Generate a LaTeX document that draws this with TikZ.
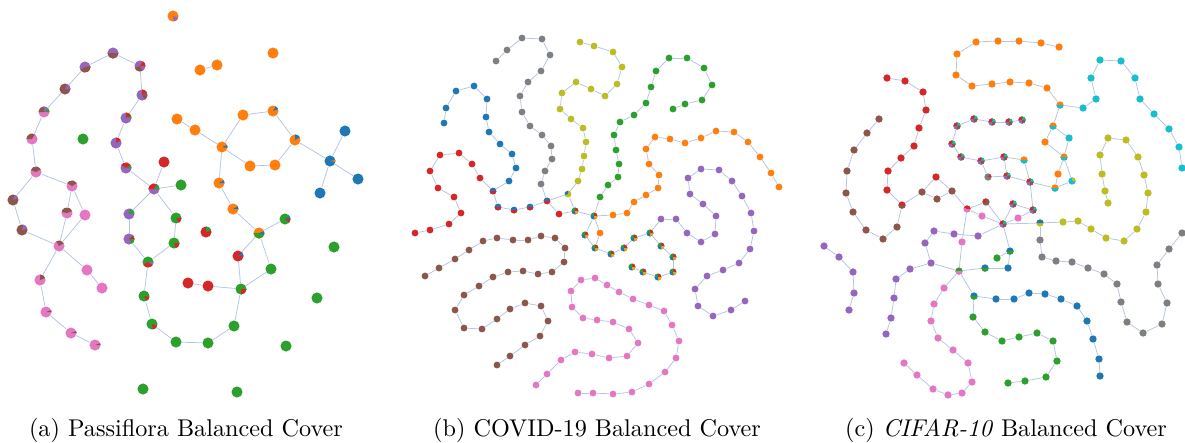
\documentclass[tikz,border=0pt]{standalone}
\definecolor{tblue}{HTML}{1F77B4}
\definecolor{torange}{HTML}{FF7F0E}
\definecolor{tgreen}{HTML}{2CA02C}
\definecolor{tred}{HTML}{D62728}
\definecolor{tpurple}{HTML}{9467BD}
\definecolor{tbrown}{HTML}{8C564B}
\definecolor{tpink}{HTML}{E377C2}
\definecolor{tgray}{HTML}{7F7F7F}
\definecolor{tolive}{HTML}{BCBD22}
\definecolor{tcyan}{HTML}{17BECF}
\definecolor{edgec}{RGB}{180,198,228}
\pgfdeclarelayer{bg}
\pgfsetlayers{bg,main}
\tikzset{
  dot/.style={circle, inner sep=0pt, minimum size=\dotd},
  edge/.style={draw=edgec, line width=0.35pt},
  captext/.style={inner sep=0pt, font=\fontsize{10.9}{13}\selectfont},
}
% chain of dots, joined in order
\newcommand{\dotchain}[3]{%
  \foreach \pt [count=\i] in {#3}
    \node[dot, fill=#2] (#1\i) at \pt {};
  \begin{pgfonlayer}{bg}
    \foreach \pt [count=\i, remember=\i as \j (initially 0)] in {#3}
      {\ifnum\j>0 \draw[edge] (#1\j) -- (#1\i);\fi}
  \end{pgfonlayer}}
% wedge of a second cluster colour on a dot
\newcommand{\mixw}[4]{\fill[#2] (#1.center) -- ++(#3:\mixr) arc[start angle=#3, end angle=#4, radius=\mixr] -- cycle;}
\newcommand{\piedot}[5]{\mixw{#1}{#2}{0}{90}\mixw{#1}{#3}{90}{180}\mixw{#1}{#4}{180}{270}\mixw{#1}{#5}{270}{360}}
\begin{document}
\begin{tikzpicture}[x=0.45pt, y=-0.45pt]
\useasboundingbox (0,0) rectangle (1185,442);

% (a) Passiflora
\begin{scope}
  \def\dotd{5pt}\def\mixr{2.5pt}
  \foreach \n/\c/\x/\y in {ao1/torange/173/16, p1/tpurple/85/67, p2/tpurple/113/53, p3/tpurple/140/66,
      p4/tpurple/142/95, p5/tpurple/126/118, p6/tpurple/116/143, p7/tpurple/126/168, p8/tpurple/154/189,
      b1/tbrown/65/89, b2/tpink/44/112, b3/tpink/32/139, b4/tpink/36/172, b5/tpink/72/186,
      b6/tbrown/13/200, b7/tbrown/22/230, b8/tpink/67/213,
      k1/tpink/85/215, k2/tpink/59/246, k3/tpink/87/270, k4/tpink/102/288, k5/tpink/40/280,
      k6/tpink/46/312, k7/tpink/71/333, k8/tpink/95/345,
      ag0/tgreen/83/139, ar1/tred/164/162, ag1/tgreen/181/185,
      q1/tpurple/129/214, q2/tgreen/176/218, q3/tpurple/129/239, q4/tgreen/174/243, q5/tgreen/148/262,
      q6/tgreen/144/296, q7/tgreen/152/324, q8/tgreen/241/289,
      ar2/tred/188/283, ar3/tred/208/286, ar4/tred/238/256, ar5/tred/206/232,
      ag2/tgreen/176/342, ag3/tgreen/208/343, ag4/tgreen/234/326, ag5/tgreen/285/219, ag6/tgreen/271/269,
      ao5/torange/177/119, ao6/torange/195/130, ao7/torange/222/147, ao8/torange/219/183,
      ao9/torange/233/209, ao10/torange/259/233,
      ri1/torange/243/115, ri2/torange/273/111, ri3/torange/295/140, ri4/torange/275/165, ri5/torange/250/166,
      ao11/torange/273/53, ao12/torange/217/65, ao13/torange/200/70,
      ab1/tblue/330/161, ab2/tblue/345/131, ab3/tblue/358/179, ab4/tblue/320/193,
      ag7/tgreen/334/247, ag8/tgreen/317/298, ag9/tgreen/286/346, ag10/tgreen/143/389, ag11/tgreen/237/392}
    {\node[dot, fill=\c] (\n) at (\x,\y) {};}
  \foreach \n/\c/\s/\e in {ao1/tpurple/-80/-20, p1/tbrown/-150/10, p2/tbrown/180/360, p3/tred/0/60,
      p3/tbrown/200/300, p4/tred/30/90, p4/tbrown/-60/30, p5/tred/20/90, p5/tgreen/0/20, p6/tred/30/90,
      p7/tred/30/150, p7/tgreen/0/30, p8/tred/60/180, p8/tgreen/0/60, b1/tpurple/0/60, b2/tbrown/90/180,
      b2/tpurple/30/90, b2/tgreen/0/30, b3/tbrown/60/180, b4/tbrown/30/160, b5/tbrown/30/150,
      b6/tpurple/20/70, b7/tpurple/10/80, b8/tbrown/20/170, k2/tbrown/30/120, k5/tbrown/20/90,
      k6/tbrown/0/20, k7/tbrown/0/20, k8/tbrown/0/20, q1/tgreen/10/80, q2/tred/-60/0, q3/tred/0/40,
      q3/tgreen/-60/0, q4/tred/-70/0, q5/tred/-150/-30, q5/tpurple/-30/0, q6/tred/-60/-10,
      q7/tred/-80/-20, q8/tred/-90/0, ar4/tblue/0/40, ar5/tgreen/20/90, ao10/tgreen/180/360,
      ao10/tblue/-20/20, ag5/tred/-40/0, ag5/tblue/0/30, ao9/tblue/0/30, ao8/tblue/0/30,
      ao7/tblue/-10/20, ri2/tblue/20/60, ri3/tblue/30/90, ab1/torange/-10/10}
    {\mixw{\n}{\c}{\s}{\e}}
  \begin{pgfonlayer}{bg}
    \foreach \u/\v in {p1/p2, p2/p3, p3/p4, p4/p5, p5/p6, p6/p7, p7/p8, p1/b1, b1/b2, b2/b3, b3/b4,
        b4/b6, b4/b5, b6/b7, b7/k2, b5/b8, b8/k2, b5/k1, k1/k2, k2/k3, k3/k4, k2/k5, k5/k6, k6/k7,
        k7/k8, p8/ar1, p8/ag1, p8/q1, p8/q2, q1/q3, q3/q5, q5/q4, q4/q2, q5/q6, q6/q7, q7/ag2,
        ag2/ag3, ag3/ag4, ag4/q8, q8/ar3, ar3/ar2, q8/ar4, ar4/ao10, q8/ag6, ag6/ao10, ao10/ag5,
        ao10/ao9, ao9/ao8, ao8/ao7, ao7/ao6, ao6/ao5, ao7/ri1, ri1/ri2, ri2/ri3, ri3/ri4, ri4/ri5,
        ri5/ao7, ri3/ab1, ab1/ab2, ab1/ab3, ab1/ab4, ao12/ao13}
      {\draw[edge] (\u) -- (\v);}
  \end{pgfonlayer}
\end{scope}

% (b) COVID-19
\begin{scope}
  \def\dotd{3.1pt}\def\mixr{1.55pt}
  \dotchain{bgy}{tgray}{(496,61),(507,50),(522,38),(542,39),(550,55),(541,71),(528,82),(520,96),
    (522,112),(530,126),(542,135),(551,146),(552,159),(545,171),(541,184)}
  \dotchain{bbl}{tblue}{(444,123),(446,108),(456,91),(474,86),(487,99),(486,117),(489,132),(500,144),
    (512,154),(516,168),(509,181),(493,191),(498,207),(514,210),(530,207)}
  \dotchain{brd}{tred}{(415,233),(430,230),(449,224),(461,213),(454,197),(438,188),(430,171),(440,155),
    (459,153),(472,164),(480,178)}
  \dotchain{bol}{tolive}{(580,42),(594,46),(613,52),(622,67),(617,84),(605,96),(591,89),(576,82),
    (562,93),(560,109),(571,119),(583,128),(586,142),(584,156),(582,169),(578,181),(568,194)}
  \dotchain{bgn}{tgreen}{(600,197),(608,185),(618,177),(619,164),(616,150),(614,135),(620,122),(634,115),
    (646,103),(651,87),(656,71),(669,58),(687,58),(704,68),(712,85),(702,100),(685,104),(673,109)}
  \dotchain{bor}{torange}{(613,215),(627,213),(634,202),(646,195),(658,188),(659,175),(649,164),(646,149),
    (655,137),(670,139),(685,143),(701,138),(716,131),(734,132),(748,142),(760,157),(771,173),(779,187)}
  \dotchain{bmx}{tblue}{(611,254),(624,248),(634,238),(650,233),(661,246),(673,257),(673,272),(658,277),
    (643,272),(632,267)}
  \dotchain{bpu}{tpurple}{(661,219),(676,219),(687,233),(701,242),(715,234),(716,216),(703,204),(690,194),
    (688,178),(701,169),(719,170),(732,181),(742,196),(751,213),(754,231),(750,249),(739,263),(723,270),
    (707,276),(695,289),(698,306),(713,316),(731,310),(745,301)}
  \dotchain{bbr}{tbrown}{(425,276),(439,268),(455,259),(469,250),(483,241),(497,238),(513,240),(528,240),
    (541,236),(555,238),(565,248),(564,262),(552,272),(538,274),(523,271),(508,272),(493,277),(479,286),
    (464,295),(455,310),(464,328),(482,329),(497,319),(510,309),(525,303),(541,306),(548,321),(540,336),
    (525,345),(510,356),(497,365)}
  \dotchain{bpk}{tpink}{(536,385),(547,374),(561,360),(575,352),(592,354),(609,358),(627,356),(638,343),
    (629,329),(613,322),(597,320),(583,318),(572,307),(571,291),(581,280),(595,278),(607,285),(619,292),
    (633,299),(649,305),(664,311),(672,325),(679,341),(676,358),(665,372),(649,384),(632,392),(613,394),
    (593,393),(578,393)}
  \foreach \n/\c/\x/\y in {bh1/tred/547/201, bh2/tred/559/214, bh3/tblue/575/211, bh4/tblue/594/216,
      bh5/tblue/585/235, bh6/torange/600/233, bh7/tblue/595/248}
    {\node[dot, fill=\c] (\n) at (\x,\y) {};}
  \foreach \n in {bbl12,bbl13,bbl14,bbl15} {\mixw{\n}{tred}{180}{360}}
  \mixw{bh1}{tblue}{30}{180}
  \mixw{bol17}{tblue}{90}{200}
  \foreach \n in {bh3,bh4,bh5,bh7,bmx1,bmx2,bmx3,bmx4,bmx5,bmx6,bmx7,bmx8,bmx9,bmx10}
    {\piedot{\n}{tred}{tgreen}{tblue}{torange}\mixw{\n}{tolive}{300}{350}}
  \begin{pgfonlayer}{bg}
    \foreach \u/\v in {bgy15/bh1, bbl15/bh1, brd11/bbl12, bol17/bh1, bh1/bh2, bh2/bh3, bol17/bh3,
        bh3/bh4, bh4/bgn1, bh4/bor1, bh4/bh5, bh4/bh6, bh5/bh7, bh6/bh7, bh7/bmx1, bmx4/bpu1}
      {\draw[edge] (\u) -- (\v);}
  \end{pgfonlayer}
\end{scope}

% (c) CIFAR-10
\begin{scope}
  \def\dotd{3.3pt}\def\mixr{1.65pt}
  \dotchain{cor}{torange}{(1059,47),(1041,43),(1019,41),(998,41),(976,42),(957,54),(956,75),(972,86),
    (992,84),(1010,82),(1029,83),(1047,88),(1060,105)}
  \dotchain{ccy}{tcyan}{(1083,108),(1096,99),(1091,78),(1100,60),(1121,61),(1135,78),(1140,99),
    (1154,114),(1169,129),(1179,147),(1182,168)}
  \dotchain{crd}{tred}{(887,78),(905,81),(923,92),(926,110),(919,128),(914,146),(901,158),(888,171),
    (887,190),(902,205)}
  \dotchain{cbr}{tbrown}{(879,119),(867,133),(854,150),(847,171),(846,193),(853,212),(866,230),
    (883,239),(897,227)}
  \dotchain{cpu}{tpurple}{(978,236),(954,234),(934,231),(925,243),(931,263),(910,269),(896,279),
    (894,298),(891,318),(886,334)}
  \dotchain{cpl}{tpurple}{(824,246),(839,257),(853,272),(854,293),(849,310)}
  \dotchain{cbu}{tblue}{(996,299),(1014,299),(1029,293),(1045,294),(1061,299),(1077,306),(1087,321),
    (1093,339),(1099,359),(1100,376)}
  \dotchain{cgn}{tgreen}{(973,317),(985,332),(1002,341),(1019,337),(1037,333),(1053,341),(1057,361),
    (1046,377),(1025,381),(1008,383)}
  \dotchain{cpk}{tpink}{(944,288),(934,304),(931,321),(938,338),(953,350),(968,363),(972,382)}
  \dotchain{cpq}{tpink}{(904,363),(917,375),(933,389),(948,395),(962,393)}
  \dotchain{col}{tolive}{(1040,223),(1063,222),(1078,221),(1091,229),(1106,238),(1124,241),(1137,229),
    (1146,212),(1148,193),(1144,175),(1138,157),(1126,140),(1108,138),(1100,155),(1102,174),
    (1105,191),(1108,203)}
  \dotchain{cgy}{tgray}{(1040,240),(1042,257),(1056,261),(1072,262),(1088,268),(1104,274),(1117,284),
    (1121,302),(1127,322),(1143,333),(1162,324),(1167,303),(1158,284),(1157,265),(1169,249),(1182,233)}
  \foreach \n/\c/\x/\y in {c1/torange/1053/126, c2/torange/1045/142, c3/tcyan/1069/138,
      c4/torange/1064/157, c5/torange/1058/174, c6/tcyan/1072/181, c7/torange/1055/188,
      m1/tpurple/974/119, m2/tpurple/992/122, m3/tpurple/957/126, m4/tpurple/952/144,
      m5/tpurple/961/157, m6/tpurple/981/161, m7/tgray/988/177, m8/tpurple/1009/122,
      m9/tpurple/1022/120, m10/tpurple/1004/157, m11/torange/1024/160, m12/tpurple/1007/176,
      m13/tpurple/1030/182, m14/tpurple/1013/204, m15/tpurple/1033/210, m16/tpink/1018/218,
      m17/tpurple/1003/224, m18/tpink/967/209, m19/tbrown/986/202, m20/tpink/982/216,
      m21/tpink/962/242, cb1/tbrown/922/192, cb2/tred/936/177, cb3/tbrown/952/191,
      cb4/tbrown/937/199, ch/tgreen/959/271, cx1/tblue/985/268, cx2/tblue/1008/268,
      cx3/tblue/1010/251, cx4/tgreen/997/258, cx5/tblue/974/296}
    {\node[dot, fill=\c] (\n) at (\x,\y) {};}
  \foreach \n/\c/\s/\e in {cor13/tcyan/180/360, c1/tcyan/180/360, c4/tcyan/180/360, c7/tcyan/180/360,
      m11/tcyan/180/360, c6/tolive/0/90, m7/tred/0/60, m19/tred/90/180, m18/tred/0/150,
      crd10/tbrown/180/360, ch/tpink/180/360, cx1/tgreen/180/360, cx3/tgreen/180/360,
      cx5/tgreen/180/360, col1/tblue/0/180}
    {\mixw{\n}{\c}{\s}{\e}}
  \foreach \n in {m1,m2,m3,m4,m5,m6,m8,m9,m10,m12,m13,m14,m15,m17}
    {\piedot{\n}{tgreen}{tred}{tpurple}{tbrown}\mixw{\n}{tcyan}{20}{60}}
  \begin{pgfonlayer}{bg}
    \foreach \u/\v in {cor13/c1, c1/c2, c1/c3, c2/c4, c3/c4, c4/c5, c4/c6, c5/c7, c6/c7, c7/m13,
        cor13/ccy1, m3/m1, m1/m2, m2/m8, m8/m9, m3/m4, m4/m5, m5/m6, m6/m10, m10/m11, m11/m13,
        m10/m12, m12/m13, m13/m15, m6/m7, m7/m12, m14/m15, m14/m17, m17/m16, m16/m15, m17/col1,
        m18/m19, m18/m20, m20/m17, m19/m17, m18/m21, m18/cb3, crd10/cb1, cbr9/crd10, cb1/cb2,
        cb2/cb3, cb1/cb4, cb4/cb3, cpu1/m17, cpu5/ch, m21/ch, ch/cx1, cx1/cx2, cx2/cx3, cx3/cx4,
        cx3/m17, ch/cx5, cx5/cbu1, cx5/cgn1, ch/cpk1, cpq5/cpk7, col1/cgy1}
      {\draw[edge] (\u) -- (\v);}
  \end{pgfonlayer}
\end{scope}

% captions
\node[captext] (capa) at (186,430) {(a) Passiflora Balanced Cover};
\node[captext] (capb) at (597,430) {(b) COVID-19 Balanced Cover};
\node[captext] (capc) at (1006,430) {(c) \textit{CIFAR-10} Balanced Cover};
\end{tikzpicture}
\end{document}
